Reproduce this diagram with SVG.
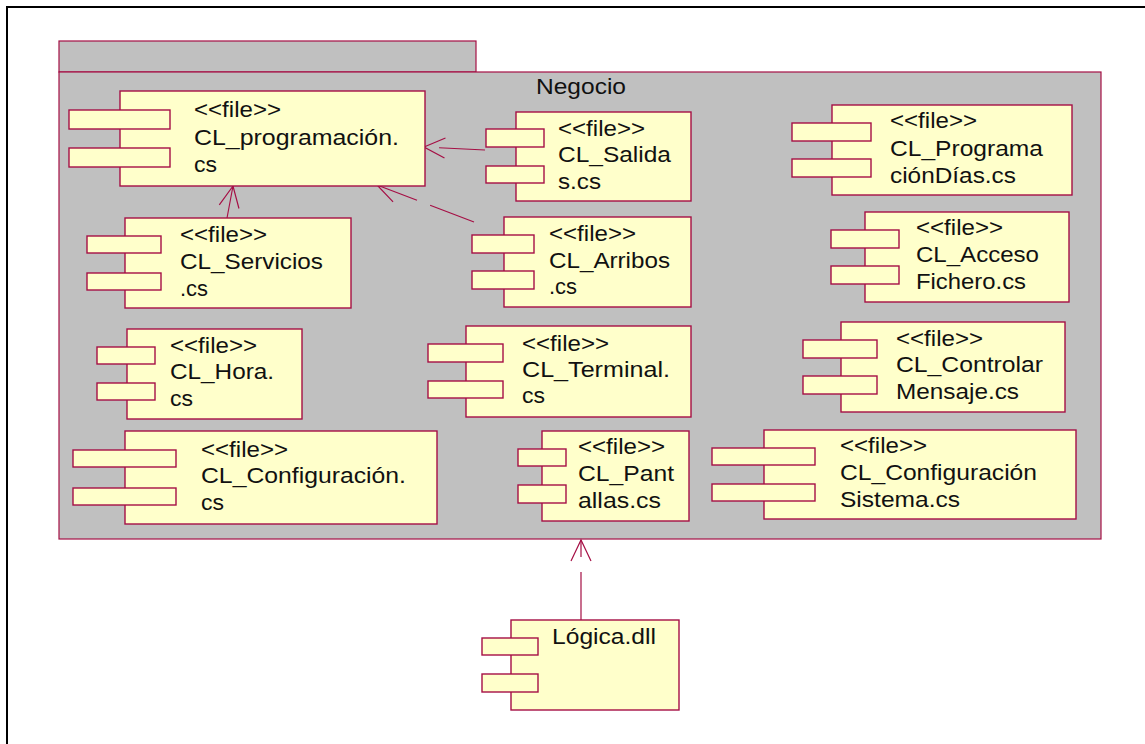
<svg xmlns="http://www.w3.org/2000/svg" width="1145" height="744" viewBox="0 0 1145 744">
<style>
.b{fill:#ffffcb;stroke:#a50f45;stroke-width:1.4}
.l{fill:none;stroke:#a50f45;stroke-width:1.2}
text{font-family:"Liberation Sans",Arial,sans-serif;font-size:22.5px;fill:#111}
</style>
<defs><marker id="a" markerUnits="userSpaceOnUse" markerWidth="30" markerHeight="30" refX="25" refY="12" orient="auto"><path d="M4 2L25 12L4 22" fill="none" stroke="#a50f45" stroke-width="1.2"/></marker></defs>
<rect width="1145" height="744" fill="#fff"/>
<path d="M7 744V7H1145" fill="none" stroke="#000" stroke-width="2"/>
<g id="pkg"><rect x="59" y="41" width="417" height="31" fill="#c0c0c0" stroke="#a50f45" stroke-width="1.2"/><rect x="59" y="72" width="1042" height="467" fill="#c0c0c0" stroke="#a50f45" stroke-width="1.2"/><text x="536" y="94" textLength="90" lengthAdjust="spacingAndGlyphs">Negocio</text></g>
<g id="connectors">
<path class="l" marker-end="url(#a)" stroke-dasharray="46 100" d="M485 150L424 147"/>
<path class="l" marker-end="url(#a)" d="M227 218L233 186"/>
<path class="l" marker-end="url(#a)" stroke-dasharray="47 14 200" d="M474 222L377 185"/>
<path class="l" marker-end="url(#a)" stroke-dasharray="48 15 100" d="M581 620L581 540"/>
</g>
<g id="n1"><rect class="b" x="120" y="91" width="305" height="95"/><rect class="b" x="69" y="110" width="101" height="19"/><rect class="b" x="69" y="148" width="101" height="19"/><text x="194" y="117" textLength="87" lengthAdjust="spacingAndGlyphs">&lt;&lt;file&gt;&gt;</text><text x="194" y="145" textLength="205" lengthAdjust="spacingAndGlyphs">CL_programación.</text><text x="194" y="172" textLength="23" lengthAdjust="spacingAndGlyphs">cs</text></g>
<g id="n2"><rect class="b" x="516" y="112" width="175" height="89"/><rect class="b" x="486" y="129" width="58" height="18"/><rect class="b" x="486" y="166" width="58" height="17"/><text x="558" y="136" textLength="87" lengthAdjust="spacingAndGlyphs">&lt;&lt;file&gt;&gt;</text><text x="558" y="162" textLength="113" lengthAdjust="spacingAndGlyphs">CL_Salida</text><text x="558" y="189" textLength="43" lengthAdjust="spacingAndGlyphs">s.cs</text></g>
<g id="n3"><rect class="b" x="125" y="218" width="226" height="90"/><rect class="b" x="87" y="236" width="74" height="17"/><rect class="b" x="87" y="273" width="74" height="17"/><text x="180" y="242" textLength="87" lengthAdjust="spacingAndGlyphs">&lt;&lt;file&gt;&gt;</text><text x="180" y="269" textLength="143" lengthAdjust="spacingAndGlyphs">CL_Servicios</text><text x="180" y="296" textLength="28" lengthAdjust="spacingAndGlyphs">.cs</text></g>
<g id="n4"><rect class="b" x="504" y="217" width="187" height="90"/><rect class="b" x="472" y="235" width="62" height="18"/><rect class="b" x="472" y="271" width="62" height="18"/><text x="549" y="241" textLength="87" lengthAdjust="spacingAndGlyphs">&lt;&lt;file&gt;&gt;</text><text x="549" y="268" textLength="121" lengthAdjust="spacingAndGlyphs">CL_Arribos</text><text x="549" y="294" textLength="28" lengthAdjust="spacingAndGlyphs">.cs</text></g>
<g id="n5"><rect class="b" x="832" y="105" width="240" height="90"/><rect class="b" x="792" y="123" width="79" height="18"/><rect class="b" x="792" y="159" width="79" height="18"/><text x="890" y="128" textLength="87" lengthAdjust="spacingAndGlyphs">&lt;&lt;file&gt;&gt;</text><text x="890" y="156" textLength="153" lengthAdjust="spacingAndGlyphs">CL_Programa</text><text x="890" y="183" textLength="126" lengthAdjust="spacingAndGlyphs">ciónDías.cs</text></g>
<g id="n6"><rect class="b" x="865" y="212" width="204" height="90"/><rect class="b" x="831" y="230" width="68" height="18"/><rect class="b" x="831" y="266" width="68" height="18"/><text x="916" y="235" textLength="87" lengthAdjust="spacingAndGlyphs">&lt;&lt;file&gt;&gt;</text><text x="916" y="262" textLength="123" lengthAdjust="spacingAndGlyphs">CL_Acceso</text><text x="916" y="289" textLength="110" lengthAdjust="spacingAndGlyphs">Fichero.cs</text></g>
<g id="n7"><rect class="b" x="127" y="329" width="175" height="90"/><rect class="b" x="97" y="347" width="58" height="17"/><rect class="b" x="97" y="383" width="58" height="17"/><text x="170" y="353" textLength="87" lengthAdjust="spacingAndGlyphs">&lt;&lt;file&gt;&gt;</text><text x="170" y="379" textLength="104" lengthAdjust="spacingAndGlyphs">CL_Hora.</text><text x="170" y="406" textLength="23" lengthAdjust="spacingAndGlyphs">cs</text></g>
<g id="n8"><rect class="b" x="466" y="326" width="225" height="91"/><rect class="b" x="428" y="344" width="75" height="18"/><rect class="b" x="428" y="381" width="75" height="17"/><text x="522" y="351" textLength="87" lengthAdjust="spacingAndGlyphs">&lt;&lt;file&gt;&gt;</text><text x="522" y="377" textLength="148" lengthAdjust="spacingAndGlyphs">CL_Terminal.</text><text x="522" y="403" textLength="23" lengthAdjust="spacingAndGlyphs">cs</text></g>
<g id="n9"><rect class="b" x="841" y="322" width="224" height="90"/><rect class="b" x="803" y="340" width="74" height="18"/><rect class="b" x="803" y="376" width="74" height="18"/><text x="896" y="346" textLength="87" lengthAdjust="spacingAndGlyphs">&lt;&lt;file&gt;&gt;</text><text x="896" y="372" textLength="147" lengthAdjust="spacingAndGlyphs">CL_Controlar</text><text x="896" y="399" textLength="123" lengthAdjust="spacingAndGlyphs">Mensaje.cs</text></g>
<g id="n10"><rect class="b" x="125" y="431" width="312" height="93"/><rect class="b" x="73" y="450" width="103" height="17"/><rect class="b" x="73" y="488" width="103" height="17"/><text x="201" y="457" textLength="87" lengthAdjust="spacingAndGlyphs">&lt;&lt;file&gt;&gt;</text><text x="201" y="483" textLength="205" lengthAdjust="spacingAndGlyphs">CL_Configuración.</text><text x="201" y="510" textLength="23" lengthAdjust="spacingAndGlyphs">cs</text></g>
<g id="n11"><rect class="b" x="542" y="431" width="147" height="90"/><rect class="b" x="518" y="449" width="48" height="17"/><rect class="b" x="518" y="485" width="48" height="18"/><text x="578" y="454" textLength="87" lengthAdjust="spacingAndGlyphs">&lt;&lt;file&gt;&gt;</text><text x="578" y="481" textLength="96" lengthAdjust="spacingAndGlyphs">CL_Pant</text><text x="578" y="508" textLength="83" lengthAdjust="spacingAndGlyphs">allas.cs</text></g>
<g id="n12"><rect class="b" x="764" y="430" width="312" height="89"/><rect class="b" x="712" y="448" width="103" height="17"/><rect class="b" x="712" y="484" width="103" height="17"/><text x="840" y="453" textLength="87" lengthAdjust="spacingAndGlyphs">&lt;&lt;file&gt;&gt;</text><text x="840" y="480" textLength="197" lengthAdjust="spacingAndGlyphs">CL_Configuración</text><text x="840" y="507" textLength="120" lengthAdjust="spacingAndGlyphs">Sistema.cs</text></g>
<g id="n13"><rect class="b" x="511" y="620" width="168" height="90"/><rect class="b" x="482" y="638" width="56" height="17"/><rect class="b" x="482" y="674" width="56" height="18"/><text x="552" y="644" textLength="104" lengthAdjust="spacingAndGlyphs">Lógica.dll</text></g>
</svg>
